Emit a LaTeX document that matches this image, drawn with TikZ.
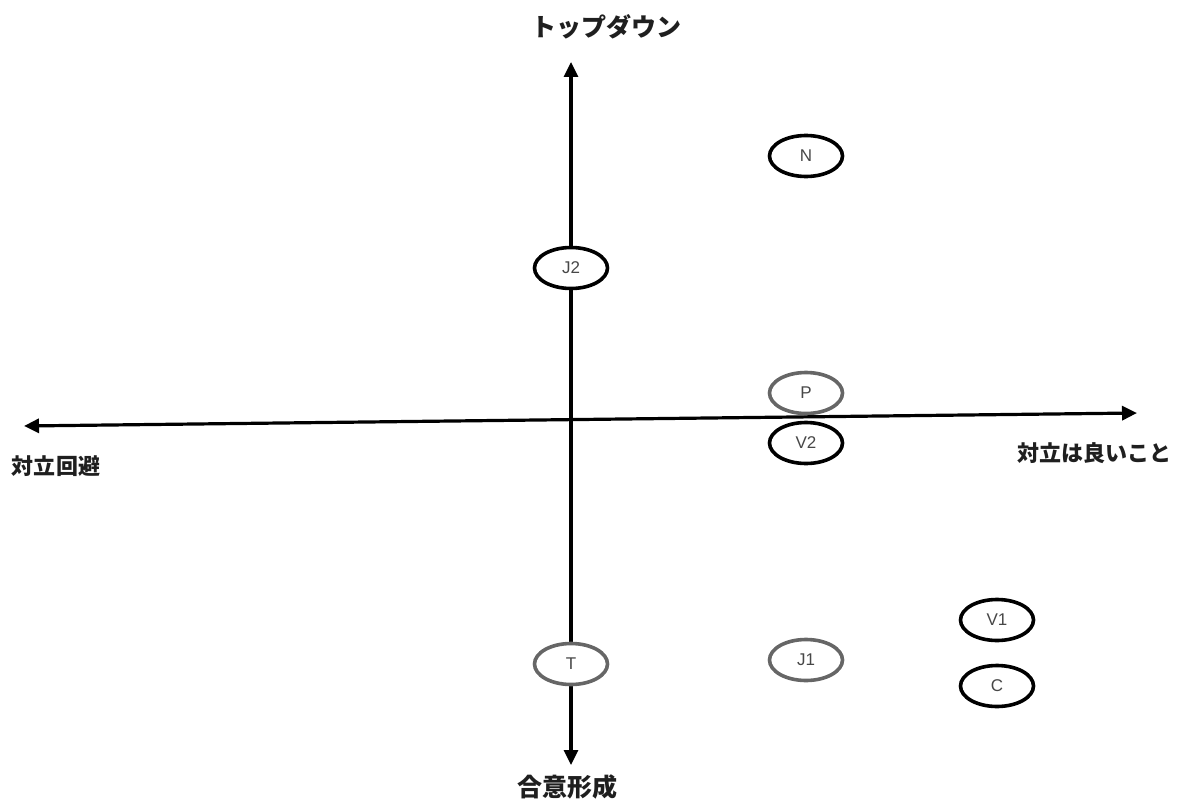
\documentclass[tikz,border=0pt]{standalone}
\usepackage{fontspec}
\setmainfont{Liberation Sans}
\newfontfamily\jpfont{Noto Sans CJK JP}
\usetikzlibrary{arrows.meta,shapes.geometric}
\begin{document}
\begin{tikzpicture}[x=1pt,y=-1pt,
  axis/.style={line width=3.2pt,{Triangle[length=15pt,width=14pt]}-{Triangle[length=15pt,width=14pt]}},
  blob/.style={ellipse,draw=black,line width=3.6pt,minimum width=73pt,minimum height=41pt,
    inner sep=0pt,text=black!72,font=\fontsize{17}{17}\selectfont},
  faint/.style={blob,draw=black!60},
  axlabel/.style={font=\jpfont\bfseries\fontsize{22}{22}\selectfont,text=black!88},
  axlabelbig/.style={font=\jpfont\bfseries\fontsize{25}{25}\selectfont,text=black!88}]
\useasboundingbox (0,0) rectangle (1190,805);
% axis end points
\coordinate (top) at (571,62);
\coordinate (bottom) at (571,765);
\coordinate (left) at (24,426);
\coordinate (right) at (1137,413);
% axis labels
\node[axlabelbig] (lt) at (606,27) {トップダウン};
\node[axlabelbig] (lb) at (567,787) {合意形成};
\node[axlabel] (ll) at (56,466) {対立回避};
\node[axlabel] (lr) at (1094,453) {対立は良いこと};
% positions
\node[blob] (N) at (806,156) {N};
\node[faint] (P) at (806,393) {P};
\node[blob] (V2) at (806,443) {V2};
\node[blob] (V1) at (997,620) {V1};
\node[blob] (C) at (997,686) {C};
\node[faint] (J1) at (806,660) {J1};
% axes
\draw[axis] (bottom) -- (top);
\draw[axis] (left) -- (right);
% positions sitting on the vertical axis
\node[blob,fill=white] (J2) at (571,268) {J2};
\node[faint,fill=white] (T) at (571,664) {T};
\end{tikzpicture}
\end{document}
